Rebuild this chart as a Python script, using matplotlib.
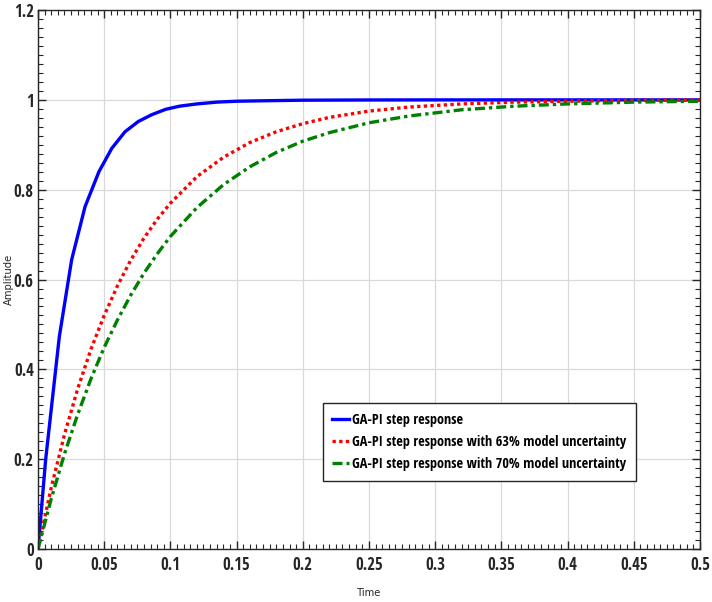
import matplotlib
matplotlib.use('Agg')
import matplotlib.pyplot as plt
from matplotlib.ticker import MultipleLocator

# blue: GA-PI step response
t_blue = [0, 0.0058, 0.0161, 0.0254, 0.0355, 0.046, 0.0557, 0.0657, 0.0758,
          0.0859, 0.0964, 0.107, 0.12, 0.135, 0.15, 0.17, 0.2, 0.25, 0.3, 0.4, 0.5]
y_blue = [0, 0.20, 0.473, 0.644, 0.762, 0.840, 0.892, 0.929, 0.952,
          0.967, 0.979, 0.986, 0.991, 0.995, 0.997, 0.998, 0.9993, 0.9998, 1.0, 1.0, 1.0]

# red: 63% model uncertainty
t_red = [0, 0.01, 0.02, 0.03, 0.04, 0.05, 0.06, 0.07, 0.08, 0.09, 0.1, 0.12,
         0.14, 0.16, 0.18, 0.2, 0.22, 0.25, 0.28, 0.32, 0.36, 0.4, 0.45, 0.5]
y_red = [0, 0.137, 0.255, 0.357, 0.445, 0.52, 0.586, 0.643, 0.692, 0.734, 0.77, 0.829,
         0.872, 0.905, 0.929, 0.947, 0.961, 0.975, 0.984, 0.991, 0.995, 0.997, 0.999, 0.9995]

# green: 70% model uncertainty
t_green = t_red
y_green = [0, 0.112, 0.212, 0.300, 0.379, 0.449, 0.510, 0.565, 0.614, 0.657, 0.696, 0.760,
           0.811, 0.851, 0.883, 0.908, 0.927, 0.949, 0.964, 0.978, 0.986, 0.991, 0.995, 0.997]

labels = ['GA-PI step response',
          'GA-PI step response with 63% model uncertainty',
          'GA-PI step response with 70% model uncertainty']

x_ticks = [0, 0.05, 0.1, 0.15, 0.2, 0.25, 0.3, 0.35, 0.4, 0.45, 0.5]
x_ticklabels = ['0', '0.05', '0.1', '0.15', '0.2', '0.25', '0.3', '0.35', '0.4', '0.45', '0.5']
y_ticks = [0, 0.2, 0.4, 0.6, 0.8, 1.0, 1.2]
y_ticklabels = ['0', '0.2', '0.4', '0.6', '0.8', '1', '1.2']

cond = ['Open Sans Condensed', 'DejaVu Sans']
plt.rcParams['font.family'] = cond

fig = plt.figure(figsize=(7.12, 6.02), dpi=100)
ax = fig.add_axes([0.0534, 0.088, 0.9296, 0.8953])

ax.plot(t_blue, y_blue, color='#0000ff', lw=2.4, label=labels[0])
ax.plot(t_red, y_red, color='#ff0000', lw=2.4, ls=(0, (1, 1)), label=labels[1])
ax.plot(t_green, y_green, color='#008000', lw=2.4, ls=(0, (3, 1.2, 1, 1.2)), label=labels[2])

ax.set_xticks(x_ticks)
ax.set_xticklabels(x_ticklabels)
ax.set_yticks(y_ticks)
ax.set_yticklabels(y_ticklabels)
ax.xaxis.set_minor_locator(MultipleLocator(0.005))
ax.yaxis.set_minor_locator(MultipleLocator(0.02))
ax.set_xlim(0, 0.5)
ax.set_ylim(0, 1.2)

ax.tick_params(which='both', direction='in', top=True, right=True, color='#262626')
ax.tick_params(which='major', length=6, width=1, labelsize=12)
ax.tick_params(which='minor', length=3.5, width=0.8)
for lab in ax.get_xticklabels() + ax.get_yticklabels():
    lab.set_fontweight('bold')
    lab.set_color('#262626')
ax.tick_params(axis='x', pad=5)
ax.tick_params(axis='y', pad=3)

ax.grid(True, which='major', color='#d9d9d9', lw=0.9)
ax.set_axisbelow(True)
for s in ax.spines.values():
    s.set_color('#262626')
    s.set_linewidth(1)

lab_font = {'family': ['DejaVu Sans'], 'stretch': 'condensed', 'size': 8, 'color': '#262626'}
ax.set_xlabel('Time', fontdict=lab_font)
ax.set_ylabel('Amplitude', fontdict=lab_font)
ax.xaxis.set_label_coords(0.5, -0.072)
ax.yaxis.set_label_coords(-0.036, 0.5)

leg = ax.legend(loc='lower left', bbox_to_anchor=(0.43, 0.127), fancybox=False,
                framealpha=1, edgecolor='#262626', handlelength=1.2, handletextpad=0.2,
                borderpad=0.65, labelspacing=0.58, borderaxespad=0,
                prop={'weight': 'bold', 'size': 10.3, 'family': cond})
leg.get_frame().set_linewidth(1)

fig.savefig('out.png', dpi=100)
